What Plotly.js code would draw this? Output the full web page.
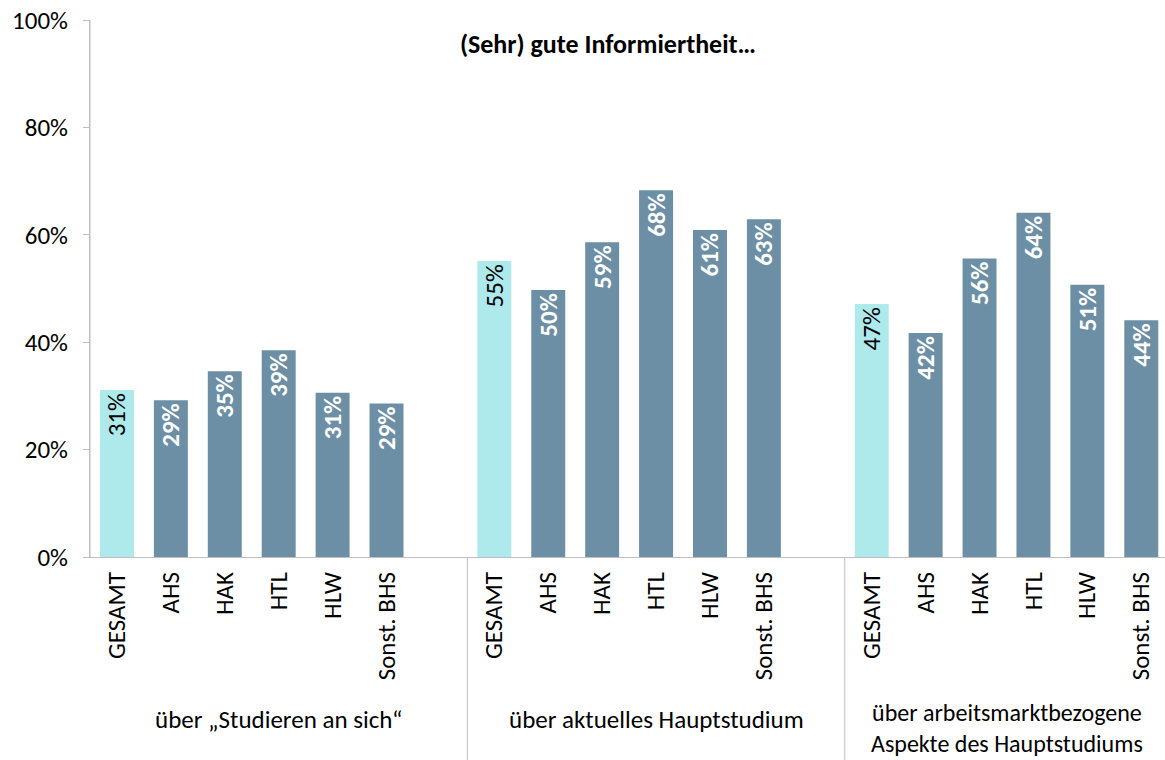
<!DOCTYPE html>
<html>
<head>
<meta charset="utf-8">
<script src="https://cdn.plot.ly/plotly-3.0.1.min.js"></script>
<style>html,body{margin:0;padding:0;background:#fff;}#chart{width:1165px;height:760px;}</style>
</head>
<body>
<div id="chart"></div>
<script>
const chartTitle = '(Sehr) gute Informiertheit…';
const groups = ['über „Studieren an sich“', 'über aktuelles Hauptstudium', 'über arbeitsmarktbezogene<br>Aspekte des Hauptstudiums'];
const schools = ['GESAMT', 'AHS', 'HAK', 'HTL', 'HLW', 'Sonst. BHS'];
const valuesStudieren = [31.1, 29.2, 34.6, 38.5, 30.6, 28.6];
const valuesHauptstudium = [55.1, 49.7, 58.6, 68.3, 60.9, 62.9];
const valuesArbeitsmarkt = [47.1, 41.7, 55.6, 64.1, 50.7, 44.1];
const yTicks = [0, 20, 40, 60, 80, 100];

const allValues = [valuesStudieren, valuesHauptstudium, valuesArbeitsmarkt];
const slotsPerGroup = schools.length + 1;
const FONT = 'Carlito, Lato, "Open Sans", sans-serif';
const FS = 25;

const gesX = [], gesY = [], othX = [], othY = [], tickVals = [], tickText = [];
allValues.forEach((vals, g) => {
  vals.forEach((v, i) => {
    const x = g * slotsPerGroup + i;
    tickVals.push(x); tickText.push(schools[i]);
    if (i === 0) { gesX.push(x); gesY.push(v); } else { othX.push(x); othY.push(v); }
  });
});

const xRange = [-0.5, 19.44];
const toPaper = x => (x - xRange[0]) / (xRange[1] - xRange[0]);

const common = {
  type: 'bar', width: 0.63, textposition: 'inside', insidetextanchor: 'end',
  textangle: -90, texttemplate: '%{y:.0f}%', constraintext: 'none', hoverinfo: 'skip', cliponaxis: false
};
const traces = [
  Object.assign({}, common, {x: gesX, y: gesY, marker: {color: '#AEE9EC'},
    textfont: {family: FONT, size: FS, color: '#000000'}}),
  Object.assign({}, common, {x: othX, y: othY, marker: {color: '#6D8FA5'},
    textfont: {family: FONT, size: FS, color: '#FFFFFF', weight: 'bold'}})
];

const shapes = [];
for (let g = 0; g < groups.length; g++) {
  const xs = toPaper(g * slotsPerGroup - 0.5);
  shapes.push({type: 'line', xref: 'paper', yref: 'paper', x0: xs, x1: xs, y0: 0, y1: g === 0 ? 1 : -0.38,
    line: {color: '#BFBFBF', width: 1}});
}

const groupCenters = [3, 10, 16.5];
const annotations = groups.map((t, g) => (g === 2 ? {
  text: t, xref: 'x', yref: 'paper', x: groupCenters[g], y: -0.3755,
  showarrow: false, xanchor: 'center', yanchor: 'bottom', borderpad: 0,
  font: {family: FONT, size: 24, color: '#000'}
} : {
  text: t, xref: 'x', yref: 'paper', x: groupCenters[g], y: -0.3035,
  showarrow: false, xanchor: 'center', yanchor: 'middle', font: {family: FONT, size: FS, color: '#000'}
}));

const layout = {
  width: 1165, height: 760,
  margin: {l: 90, r: 0, t: 20, b: 203},
  paper_bgcolor: '#fff', plot_bgcolor: '#fff',
  showlegend: false, barmode: 'overlay',
  font: {family: FONT, size: FS, color: '#000'},
  title: {text: '<b>' + chartTitle + '</b>', x: 608 / 1165, xref: 'container', xanchor: 'center',
    y: 1 - 44 / 760, yref: 'container', yanchor: 'middle', font: {family: FONT, size: 26, color: '#000'}},
  xaxis: {range: xRange, tickmode: 'array', tickvals: tickVals, ticktext: tickText, tickangle: -90,
    showline: true, linecolor: '#BFBFBF', linewidth: 1, ticks: '', showgrid: false, zeroline: false,
    ticklabelstandoff: 4,
    tickfont: {family: FONT, size: FS, color: '#000'}, fixedrange: true},
  yaxis: {range: [0, 100], tickvals: yTicks, ticktext: yTicks.map(v => v + '%'), showline: true,
    linecolor: '#BFBFBF', linewidth: 1, ticks: 'outside', ticklen: 6, tickcolor: '#BFBFBF',
    ticklabelstandoff: 10,
    showgrid: false, zeroline: false, tickfont: {family: FONT, size: FS, color: '#000'}, fixedrange: true},
  shapes: shapes, annotations: annotations
};

Plotly.newPlot('chart', traces, layout, {displayModeBar: false, staticPlot: true});
</script>
</body>
</html>
